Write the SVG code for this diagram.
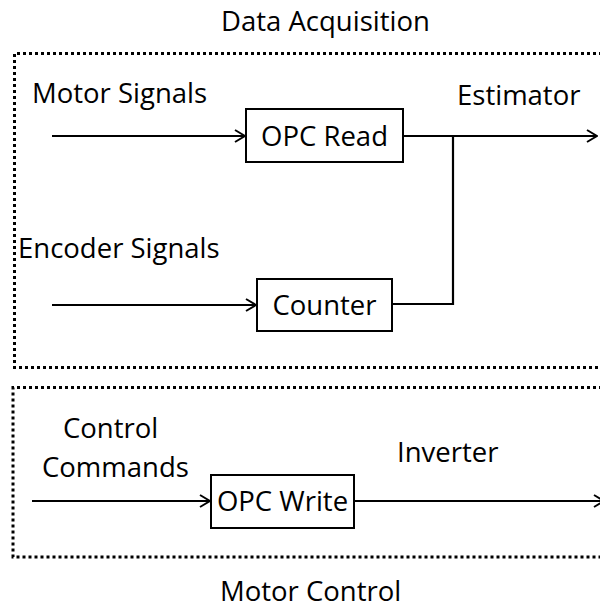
<svg xmlns="http://www.w3.org/2000/svg" width="600" height="611" viewBox="0 0 600 611">
  <style>
    text { font-family: "Open Sans", "Noto Sans", sans-serif; font-size: 27.5px; fill: #000; }
    .group { fill: none; stroke: #000; stroke-width: 3; stroke-dasharray: 3 3; }
    .block rect { fill: #fff; stroke: #000; stroke-width: 2; }
    .block text { text-anchor: middle; }
    .wire { fill: none; stroke: #000; stroke-width: 2.2; }
  </style>
  <defs>
    <marker id="arrow" viewBox="0 0 12 14" refX="11" refY="7" markerWidth="12" markerHeight="14" markerUnits="userSpaceOnUse" orient="auto">
      <path d="M1,1 L11,7 L1,13" fill="none" stroke="#000" stroke-width="2"/>
    </marker>
  </defs>

  <rect fill="#fff" x="0" y="0" width="600" height="611"/>

  <!-- dotted group frames (open on the right) -->
  <g id="data-acquisition">
    <path class="group" d="M620,53.5 H14.5 V367.5 H620"/>
    <text x="221" y="31">Data Acquisition</text>
  </g>
  <g id="motor-control">
    <path class="group" d="M620,387.5 H13 V557 H620"/>
    <text x="220" y="601">Motor Control</text>
  </g>

  <!-- processing blocks -->
  <g id="opc-read" class="block">
    <rect x="246" y="109" width="157" height="53"/>
    <text x="324.5" y="145.5">OPC Read</text>
  </g>
  <g id="counter" class="block">
    <rect x="257" y="279" width="135" height="52"/>
    <text x="324.5" y="315">Counter</text>
  </g>
  <g id="opc-write" class="block">
    <rect x="211" y="475" width="143" height="53"/>
    <text x="282.5" y="511">OPC Write</text>
  </g>

  <!-- signal lines -->
  <g id="connectors">
    <line class="wire" x1="52" y1="136" x2="245" y2="136" marker-end="url(#arrow)"/>
    <line class="wire" x1="403" y1="136" x2="597" y2="136" marker-end="url(#arrow)"/>
    <line class="wire" x1="52" y1="305" x2="256" y2="305" marker-end="url(#arrow)"/>
    <polyline class="wire" points="392,304 453,304 453,136"/>
    <line class="wire" x1="32" y1="501" x2="210" y2="501" marker-end="url(#arrow)"/>
    <line class="wire" x1="354" y1="501" x2="604" y2="501" marker-end="url(#arrow)"/>
  </g>

  <!-- signal labels -->
  <g id="labels">
    <text x="32" y="103">Motor Signals</text>
    <text x="457" y="105">Estimator</text>
    <text x="18" y="258">Encoder Signals</text>
    <text x="63" y="438">Control</text>
    <text x="42" y="477">Commands</text>
    <text x="397" y="462">Inverter</text>
  </g>
</svg>
